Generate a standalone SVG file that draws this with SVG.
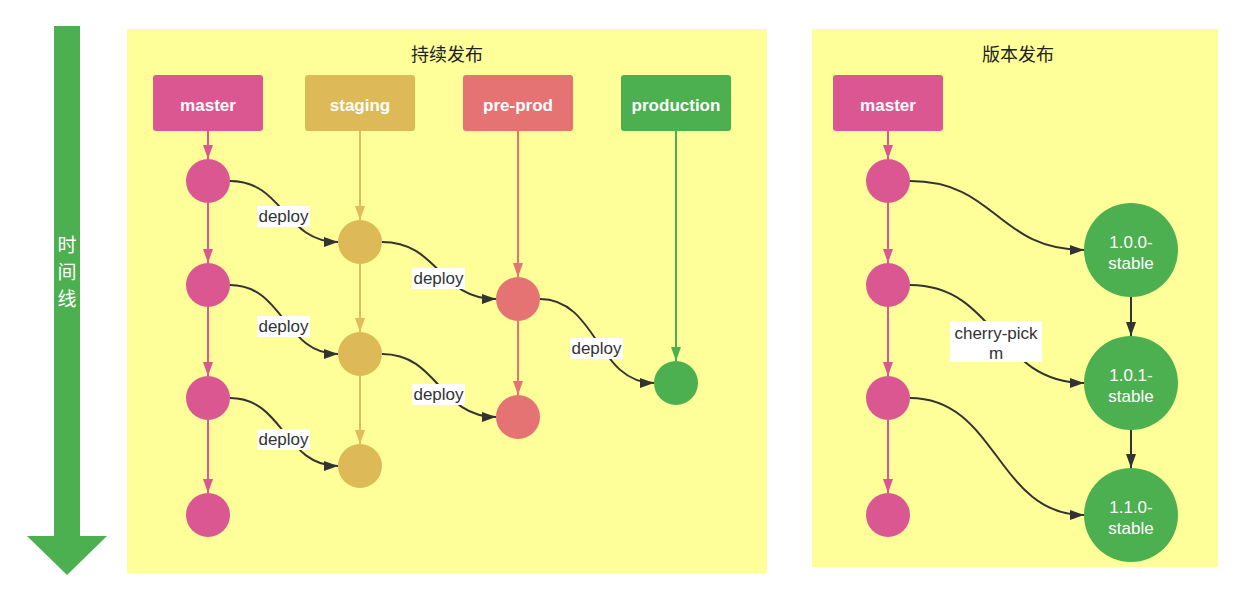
<svg xmlns="http://www.w3.org/2000/svg" width="1243" height="602" viewBox="0 0 1243 602">
<style>
  .cjk{font-family:"Liberation Sans","Noto Sans CJK SC",sans-serif;}
  .title{font-size:18px;fill:#222;text-anchor:middle;}
  .box-label{font-family:"Liberation Sans",Arial,sans-serif;font-size:17px;font-weight:bold;fill:#fff;text-anchor:middle;}
  .edge-label{font-family:"Liberation Sans",Arial,sans-serif;font-size:17px;fill:#333;text-anchor:middle;}
  .circ-label{font-family:"Liberation Sans",Arial,sans-serif;font-size:17px;fill:#fff;text-anchor:middle;}
  .tl{font-size:19px;fill:#fff;text-anchor:middle;}
  .pink{fill:#db5792;}
  .gold{fill:#ddba57;}
  .red{fill:#e57373;}
  .green{fill:#4caf50;}
  .lbg{fill:#fff;}
  .ln{fill:none;stroke-width:2;}
  .ln-pink{stroke:#db5792;marker-end:url(#ah-pink);}
  .ln-gold{stroke:#e1bb5c;marker-end:url(#ah-gold);}
  .ln-red{stroke:#e57373;marker-end:url(#ah-red);}
  .ln-green{stroke:#4caf50;marker-end:url(#ah-green);}
  .ln-dark{stroke:#333;marker-end:url(#ah-dark);}
</style>
<defs>
  <marker id="ah-pink" markerUnits="userSpaceOnUse" markerWidth="14" markerHeight="10" refX="14" refY="5" orient="auto"><path d="M0,0 L14,5 L0,10 z" fill="#db5792"/></marker>
  <marker id="ah-gold" markerUnits="userSpaceOnUse" markerWidth="14" markerHeight="10" refX="14" refY="5" orient="auto"><path d="M0,0 L14,5 L0,10 z" fill="#e1bb5c"/></marker>
  <marker id="ah-red" markerUnits="userSpaceOnUse" markerWidth="14" markerHeight="10" refX="14" refY="5" orient="auto"><path d="M0,0 L14,5 L0,10 z" fill="#e57373"/></marker>
  <marker id="ah-green" markerUnits="userSpaceOnUse" markerWidth="14" markerHeight="10" refX="14" refY="5" orient="auto"><path d="M0,0 L14,5 L0,10 z" fill="#4caf50"/></marker>
  <marker id="ah-dark" markerUnits="userSpaceOnUse" markerWidth="14" markerHeight="10" refX="14" refY="5" orient="auto"><path d="M0,0 L14,5 L0,10 z" fill="#333"/></marker>
</defs>
<rect width="1243" height="602" fill="#fff"/>

<!-- timeline arrow -->
<g id="timeline">
  <path d="M54,26 H80 V536 H107 L67,575 L27,536 H54 Z" fill="#4caf50"/>
  <text class="cjk tl" x="67" y="252">时</text>
  <text class="cjk tl" x="67" y="279">间</text>
  <text class="cjk tl" x="67" y="306">线</text>
</g>

<!-- containers -->
<g id="cd-container">
  <rect x="127" y="29" width="640" height="544" fill="#ffff99"/>
  <text class="cjk title" x="447" y="61">持续发布</text>
</g>
<g id="release-container">
  <rect x="812" y="29" width="406" height="538" fill="#ffff99"/>
  <text class="cjk title" x="1018" y="61">版本发布</text>
</g>

<!-- connectors -->
<g id="connectors">
  <!-- master vertical -->
  <path class="ln ln-pink" d="M208,131 V159"/>
  <path class="ln ln-pink" d="M208,203 V263"/>
  <path class="ln ln-pink" d="M208,307 V376"/>
  <path class="ln ln-pink" d="M208,420 V493"/>
  <!-- staging vertical -->
  <path class="ln ln-gold" d="M360,131 V220"/>
  <path class="ln ln-gold" d="M360,264 V332"/>
  <path class="ln ln-gold" d="M360,376 V444"/>
  <!-- pre-prod vertical -->
  <path class="ln ln-red" d="M518,131 V277"/>
  <path class="ln ln-red" d="M518,321 V395"/>
  <!-- production vertical -->
  <path class="ln ln-green" d="M676,131 V361"/>
  <!-- right master vertical -->
  <path class="ln ln-pink" d="M888,131 V159"/>
  <path class="ln ln-pink" d="M888,203 V263"/>
  <path class="ln ln-pink" d="M888,307 V376"/>
  <path class="ln ln-pink" d="M888,420 V493"/>
  <!-- deploy curves -->
  <path class="ln ln-dark" d="M230,181 C284,181 284,242 338,242"/>
  <path class="ln ln-dark" d="M230,285 C284,285 284,354 338,354"/>
  <path class="ln ln-dark" d="M230,398 C284,398 284,466 338,466"/>
  <path class="ln ln-dark" d="M382,242 C439,242 439,299 496,299"/>
  <path class="ln ln-dark" d="M382,354 C439,354 439,417 496,417"/>
  <path class="ln ln-dark" d="M540,299 C597,299 597,383 654,383"/>
  <!-- release curves -->
  <path class="ln ln-dark" d="M910,181 C997,181 997,250 1084,250"/>
  <path class="ln ln-dark" d="M910,285 C997,285 997,383 1084,383"/>
  <path class="ln ln-dark" d="M910,398 C997,398 997,515 1084,515"/>
  <path class="ln ln-dark" d="M1131,297 V336"/>
  <path class="ln ln-dark" d="M1131,430 V468"/>
  <!-- edge labels -->
  <rect class="lbg" x="257" y="206" width="53" height="21"/>
  <text class="edge-label" x="283.5" y="222">deploy</text>
  <rect class="lbg" x="257" y="316" width="53" height="21"/>
  <text class="edge-label" x="283.5" y="332">deploy</text>
  <rect class="lbg" x="257" y="429" width="53" height="21"/>
  <text class="edge-label" x="283.5" y="445">deploy</text>
  <rect class="lbg" x="412" y="268" width="53" height="21"/>
  <text class="edge-label" x="438.5" y="284">deploy</text>
  <rect class="lbg" x="412" y="384" width="53" height="21"/>
  <text class="edge-label" x="438.5" y="400">deploy</text>
  <rect class="lbg" x="570" y="338" width="53" height="21"/>
  <text class="edge-label" x="596.5" y="354">deploy</text>
  <rect class="lbg" x="950" y="321" width="92" height="41"/>
  <text class="edge-label" x="996" y="339">cherry-pick</text>
  <text class="edge-label" x="996" y="359">m</text>
</g>

<!-- branch header nodes -->
<g id="master-box"><rect class="pink" x="153" y="75" width="110" height="56" rx="3"/><text class="box-label" x="208" y="111">master</text></g>
<g id="staging-box"><rect class="gold" x="305" y="75" width="110" height="56" rx="3"/><text class="box-label" x="360" y="111">staging</text></g>
<g id="preprod-box"><rect class="red" x="463" y="75" width="110" height="56" rx="3"/><text class="box-label" x="518" y="111">pre-prod</text></g>
<g id="production-box"><rect class="green" x="621" y="75" width="110" height="56" rx="3"/><text class="box-label" x="676" y="111">production</text></g>
<g id="master2-box"><rect class="pink" x="833" y="75" width="110" height="56" rx="3"/><text class="box-label" x="888" y="111">master</text></g>

<!-- commit nodes -->
<g id="m1"><circle class="pink" cx="208" cy="181" r="22"/></g>
<g id="m2"><circle class="pink" cx="208" cy="285" r="22"/></g>
<g id="m3"><circle class="pink" cx="208" cy="398" r="22"/></g>
<g id="m4"><circle class="pink" cx="208" cy="515" r="22"/></g>
<g id="s1"><circle class="gold" cx="360" cy="242" r="22"/></g>
<g id="s2"><circle class="gold" cx="360" cy="354" r="22"/></g>
<g id="s3"><circle class="gold" cx="360" cy="466" r="22"/></g>
<g id="p1"><circle class="red" cx="518" cy="299" r="22"/></g>
<g id="p2"><circle class="red" cx="518" cy="417" r="22"/></g>
<g id="prod1"><circle class="green" cx="676" cy="383" r="22"/></g>

<g id="rm1"><circle class="pink" cx="888" cy="181" r="22"/></g>
<g id="rm2"><circle class="pink" cx="888" cy="285" r="22"/></g>
<g id="rm3"><circle class="pink" cx="888" cy="398" r="22"/></g>
<g id="rm4"><circle class="pink" cx="888" cy="515" r="22"/></g>

<g id="v100"><circle class="green" cx="1131" cy="250" r="47"/><text class="circ-label" x="1131" y="248">1.0.0-</text><text class="circ-label" x="1131" y="269">stable</text></g>
<g id="v101"><circle class="green" cx="1131" cy="383" r="47"/><text class="circ-label" x="1131" y="381">1.0.1-</text><text class="circ-label" x="1131" y="402">stable</text></g>
<g id="v110"><circle class="green" cx="1131" cy="515" r="47"/><text class="circ-label" x="1131" y="513">1.1.0-</text><text class="circ-label" x="1131" y="534">stable</text></g>
</svg>
